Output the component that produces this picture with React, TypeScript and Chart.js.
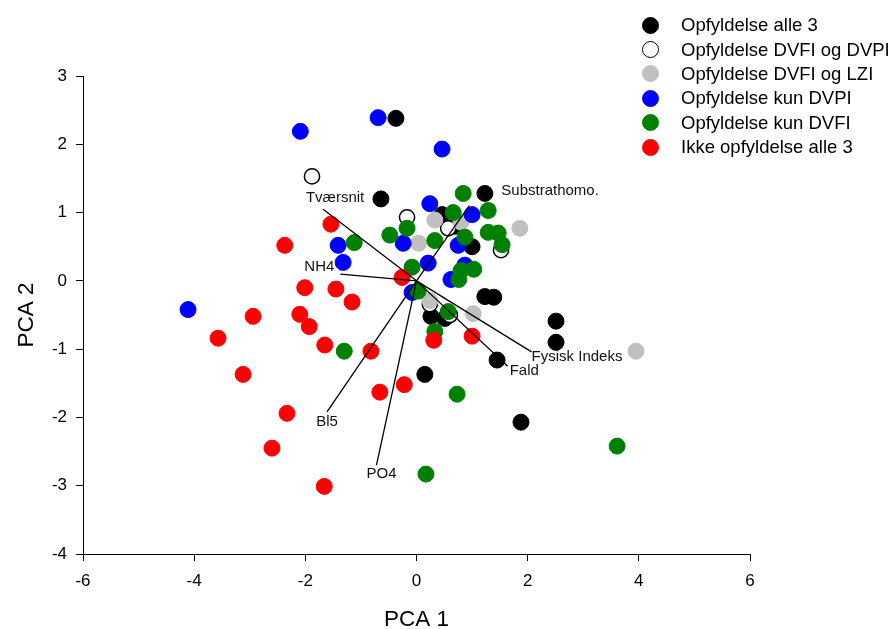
import React, { useEffect, useRef } from "react";
import { Chart, registerables } from "chart.js";

Chart.register(...registerables);

const FONT = '"Liberation Sans", Arial, Helvetica, sans-serif';

// Series names (legend)
const seriesNames = [
  "Opfyldelse alle 3",
  "Opfyldelse DVFI og DVPI",
  "Opfyldelse DVFI og LZI",
  "Opfyldelse kun DVPI",
  "Opfyldelse kun DVFI",
  "Ikke opfyldelse alle 3",
];

// Opfyldelse alle 3 (black)
const allX = [-0.37, -0.64, 1.23, 0.46, 0.69, 1.0, 1.23, 1.39, 0.26, 0.51, 2.51, 2.51, 1.45, 0.15, 1.88];
const allY = [2.38, 1.2, 1.28, 0.97, 0.8, 0.5, -0.23, -0.24, -0.52, -0.55, -0.59, -0.9, -1.16, -1.37, -2.07];

// Opfyldelse DVFI og DVPI (open)
const fpX = [-1.88, -0.17, 0.57, 1.52, 0.24, 0.6];
const fpY = [1.53, 0.93, 0.77, 0.45, -0.34, -0.5];

// Opfyldelse DVFI og LZI (grey)
const flX = [1.86, 0.33, 0.8, 0.04, 0.24, 1.02, 3.95];
const flY = [0.77, 0.89, 0.86, 0.55, -0.29, -0.48, -1.03];

// Opfyldelse kun DVPI (blue)
const pX = [-2.09, -0.69, 0.46, 0.24, 1.0, -1.41, -0.24, 0.75, -1.32, 0.21, 0.87, 0.62, -0.08, -4.11];
const pY = [2.19, 2.39, 1.93, 1.13, 0.97, 0.52, 0.55, 0.52, 0.27, 0.26, 0.23, 0.02, -0.17, -0.42];

// Opfyldelse kun DVFI (green)
const fX = [0.84, 0.66, 1.29, -0.17, -0.48, -1.12, 0.33, 0.87, 1.29, 1.47, 1.54, -0.08, 0.8, 1.03, 0.76, 0.03, 0.57, 0.33, -1.3, 0.73, 0.17, 3.61];
const fY = [1.28, 1.0, 1.03, 0.77, 0.67, 0.56, 0.59, 0.64, 0.71, 0.7, 0.53, 0.2, 0.15, 0.17, 0.02, -0.15, -0.45, -0.74, -1.03, -1.66, -2.83, -2.42];

// Ikke opfyldelse alle 3 (red)
const nX = [-1.54, -2.37, -0.26, -2.01, -1.45, -1.16, -2.1, -1.93, -3.57, -1.65, -0.82, -2.94, -3.12, -0.66, -0.22, -2.33, -2.6, -1.66, 0.31, 1.0];
const nY = [0.83, 0.52, 0.05, -0.1, -0.12, -0.31, -0.49, -0.67, -0.84, -0.94, -1.03, -0.52, -1.37, -1.63, -1.52, -1.94, -2.45, -3.01, -0.87, -0.81];

// Loading vectors
const vecNames = ["Tværsnit", "NH4", "Substrathomo.", "Fysisk Indeks", "Fald", "Bl5", "PO4"];
const vecX = [-1.68, -1.37, 0.95, 2.07, 1.64, -1.61, -0.72];
const vecY = [1.05, 0.1, 1.1, -1.04, -1.25, -1.92, -2.7];
// label pixel offsets from vector end, and alignment
const vecLabelDx = [12, -21, 32, 0, 2, 0, 5];
const vecLabelDy = [-11, -7, -15, 5, 5, 9.5, 9];
const vecLabelAlign: CanvasTextAlign[] = ["center", "center", "left", "left", "left", "center", "center"];

const xTicks = [-6, -4, -2, 0, 2, 4, 6];
const yTicks = [-4, -3, -2, -1, 0, 1, 2, 3];

const fills = ["#000000", "#ffffff", "#c0c0c0", "#0000ff", "#008000", "#ff0000"];
const borders = ["#000000", "#000000", "#c0c0c0", "#0000ff", "#008000", "#ff0000"];

const pts = (xs: number[], ys: number[]) => xs.map((x, i) => ({ x, y: ys[i] }));

const vectorLabels = {
  id: "vectorLabels",
  afterDatasetsDraw(chart: any) {
    const { ctx, scales } = chart;
    ctx.save();
    ctx.font = `15px ${FONT}`;
    ctx.fillStyle = "#111";
    ctx.textBaseline = "middle";
    vecNames.forEach((name, i) => {
      const px = scales.x.getPixelForValue(vecX[i]) + vecLabelDx[i];
      const py = scales.y.getPixelForValue(vecY[i]) + vecLabelDy[i];
      ctx.textAlign = vecLabelAlign[i];
      ctx.fillText(name, px, py);
    });
    ctx.restore();
  },
};

export default function App() {
  const ref = useRef<HTMLCanvasElement | null>(null);

  useEffect(() => {
    if (!ref.current) return;
    const seriesData = [pts(allX, allY), pts(fpX, fpY), pts(flX, flY), pts(pX, pY), pts(fX, fY), pts(nX, nY)];
    const pointSets = seriesData.map((d, i) => ({
      type: "scatter" as const,
      label: seriesNames[i],
      data: d,
      backgroundColor: fills[i],
      borderColor: borders[i],
      borderWidth: i === 1 ? 1.5 : 1,
      pointRadius: i === 1 ? 7.6 : 8,
      pointHoverRadius: 8,
      order: 6 - i,
    }));
    const lineSets = vecNames.map((n, i) => ({
      type: "line" as const,
      label: n,
      data: [
        { x: 0, y: 0 },
        { x: vecX[i], y: vecY[i] },
      ],
      borderColor: "#000",
      borderWidth: 1.3,
      pointRadius: 0,
      showLine: true,
      fill: false,
      order: 0,
    }));

    const chart = new Chart(ref.current, {
      type: "scatter",
      data: { datasets: [...pointSets, ...lineSets] as any },
      options: {
        responsive: false,
        animation: false,
        devicePixelRatio: 1,
        layout: { padding: { left: 0, right: 143, top: 76, bottom: 0 } },
        plugins: { legend: { display: false }, tooltip: { enabled: false } },
        scales: {
          x: {
            type: "linear",
            min: -6,
            max: 6,
            afterFit: (s: any) => {
              s.height = 75;
            },
            afterBuildTicks: (s: any) => {
              s.ticks = xTicks.map((v) => ({ value: v }));
            },
            ticks: { color: "#000", font: { family: FONT, size: 17 }, padding: 10, maxRotation: 0 },
            grid: { drawOnChartArea: false, drawTicks: true, tickLength: 7, color: "#000", lineWidth: 1 },
            border: { display: true, color: "#000", width: 1 },
            title: {
              display: true,
              text: "PCA 1",
              color: "#000",
              font: { family: FONT, size: 22.5, lineHeight: 0.85 },
              padding: { top: 0, bottom: 0 },
            },
          },
          y: {
            type: "linear",
            min: -4,
            max: 3,
            afterFit: (s: any) => {
              s.width = 83;
            },
            afterBuildTicks: (s: any) => {
              s.ticks = yTicks.map((v) => ({ value: v }));
            },
            ticks: { color: "#000", font: { family: FONT, size: 17 }, padding: 9 },
            grid: { drawOnChartArea: false, drawTicks: true, tickLength: 7, color: "#000", lineWidth: 1 },
            border: { display: true, color: "#000", width: 1 },
            title: {
              display: true,
              text: "PCA 2",
              color: "#000",
              font: { family: FONT, size: 22.5, lineHeight: 1 },
              padding: { top: 16, bottom: 0 },
            },
          },
        },
      },
      plugins: [vectorLabels],
    });
    return () => chart.destroy();
  }, []);

  return (
    <div style={{ position: "absolute", left: 0, top: 0, width: 893, height: 629, background: "#fff" }}>
      <canvas ref={ref} width={893} height={629} style={{ display: "block" }} />
      <div style={{ position: "absolute", left: 641.5, top: 13, fontFamily: FONT, fontSize: 18.5, color: "#000" }}>
        {seriesNames.map((n, i) => (
          <div key={n} style={{ display: "flex", alignItems: "center", height: 24.4, whiteSpace: "nowrap" }}>
            <span
              style={{
                display: "inline-block",
                width: 17,
                height: 17,
                borderRadius: "50%",
                background: fills[i],
                border: i === 1 ? "1.5px solid #000" : `1px solid ${borders[i]}`,
                boxSizing: "border-box",
                marginRight: 22.5,
                flex: "none",
              }}
            />
            <span>{n}</span>
          </div>
        ))}
      </div>
    </div>
  );
}
